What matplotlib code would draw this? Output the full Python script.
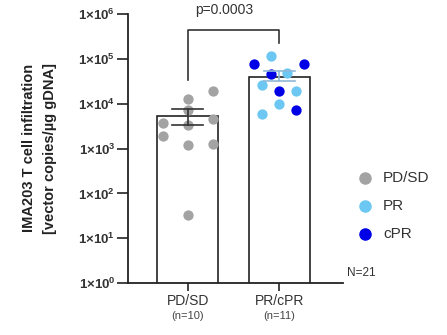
import numpy as np
import matplotlib.pyplot as plt

plt.rcParams['font.family'] = ['Liberation Sans', 'DejaVu Sans']
plt.rcParams['mathtext.fontset'] = 'custom'
plt.rcParams['mathtext.rm'] = 'Liberation Sans'
plt.rcParams['mathtext.bf'] = 'Liberation Sans:bold'

groups = ["PD/SD", "PR/cPR"]
group_n = ["(n=10)", "(n=11)"]
bar_means = [5.3e3, 4.0e4]
err_low = [3.4e3, 3.2e4]
err_high = [7.6e3, 5.4e4]

# PD/SD points: jitter offset, log10 value
pdsd_dx = [0.27, 0.0, 0.0, -0.27, 0.0, 0.27, -0.27, 0.0, 0.27, 0.0]
pdsd_log = [4.29, 4.11, 3.86, 3.57, 3.52, 3.66, 3.28, 3.08, 3.10, 1.52]
# PR points
pr_dx = [-0.09, 0.09, -0.19, 0.19, 0.0, -0.19]
pr_log = [5.07, 4.69, 4.42, 4.29, 4.0, 3.77]
# cPR points
cpr_dx = [-0.27, 0.27, -0.09, 0.0, 0.19]
cpr_log = [4.88, 4.88, 4.67, 4.29, 3.86]

grey = '#a3a3a3'
light = '#6cc8f2'
dark = '#0000e6'
txt = '#333333'

fig = plt.figure(figsize=(4.47, 3.35), dpi=100)
ax = fig.add_axes([0.286, 0.155, 0.481, 0.803])

x = np.arange(len(groups))
ax.bar(x, bar_means, width=0.67, color='white', edgecolor='#222222', linewidth=1.2, zorder=1)

ax.scatter(x[0] + np.array(pdsd_dx), 10 ** np.array(pdsd_log), s=55, color=grey, zorder=3, linewidths=0)
ax.scatter(x[1] + np.array(pr_dx), 10 ** np.array(pr_log), s=55, color=light, zorder=3, linewidths=0)
ax.scatter(x[1] + np.array(cpr_dx), 10 ** np.array(cpr_log), s=55, color=dark, zorder=3, linewidths=0)

# error bars
ecol = ['#333333', '#8fb8d8']
for i in range(2):
    ax.plot([x[i], x[i]], [err_low[i], err_high[i]], color=ecol[i], lw=1.2, zorder=4)
    for v in (err_low[i], err_high[i]):
        ax.plot([x[i] - 0.17, x[i] + 0.17], [v, v], color=ecol[i], lw=1.2, zorder=4)

ax.set_yscale('log')
ax.set_ylim(1, 1e6)
ax.set_xlim(-0.66, 1.70)
ax.set_yticks([10 ** k for k in range(7)])
ax.set_yticklabels([r'$\mathbf{1{\times}10^{%d}}$' % k for k in range(7)], fontsize=9.5, color=txt)
ax.yaxis.set_minor_locator(plt.NullLocator())
ax.set_xticks(x)
ax.set_xticklabels(['' for g in groups])
for i in range(2):
    ax.text(x[i], -0.04, groups[i], transform=ax.get_xaxis_transform(), ha='center', va='top',
            fontsize=10, color=txt)
    ax.text(x[i], -0.105, group_n[i], transform=ax.get_xaxis_transform(), ha='center', va='top',
            fontsize=8, color='#444444')

for s in ['top', 'right']:
    ax.spines[s].set_visible(False)
for s in ['left', 'bottom']:
    ax.spines[s].set_linewidth(1.3)
    ax.spines[s].set_color('#222222')
ax.tick_params(axis='both', width=1.2, color='#222222')
ax.tick_params(axis='y', length=8, pad=1)
ax.tick_params(axis='x', length=6)

# y label, two lines
fig.text(29 / 447, 1 - 148 / 335, 'IMA203 T cell infiltration', rotation=90, fontsize=10.5,
         fontweight='bold', ha='center', va='center', color='#222222')
fig.text(50 / 447, 1 - 148 / 335, '[vector copies/µg gDNA]', rotation=90, fontsize=10.5,
         fontweight='bold', ha='center', va='center', color='#222222')

# significance bracket
ax.plot([0, 0, 1, 1], [3.4e4, 4.4e5, 4.4e5, 2.3e5], color=txt, lw=1.2, clip_on=False)
ax.text(0.4, 1.25e6, 'p=0.0003', ha='center', va='center', fontsize=10, color=txt)

# legend
leg_labels = ["PD/SD", "PR", "cPR"]
leg_colors = [grey, light, dark]
for j in range(3):
    yy = 1 - (178 + 28 * j) / 335
    fig.add_artist(plt.Line2D([365 / 447], [yy], marker='o', markersize=8, color=leg_colors[j],
                              linestyle='none', transform=fig.transFigure))
    fig.text(383 / 447, yy, leg_labels[j], fontsize=11, va='center', color=txt)
fig.text(347 / 447, 1 - 273 / 335, 'N=21', fontsize=8.5, va='center', color=txt)

fig.savefig('out.png', dpi=100)
